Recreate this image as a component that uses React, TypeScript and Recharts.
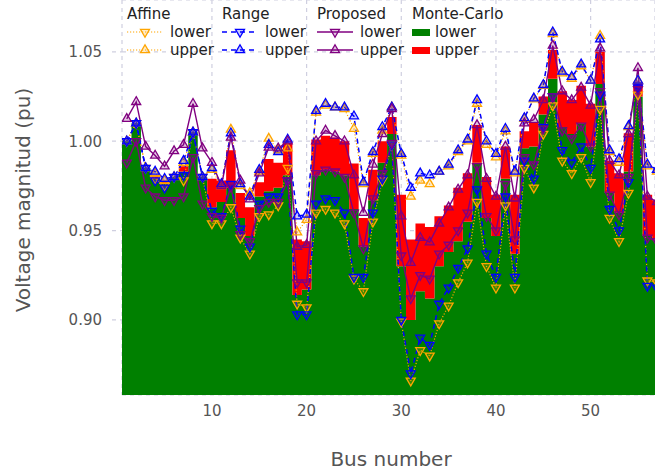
import React from "react";
import { ComposedChart, Area, Line, XAxis, YAxis, CartesianGrid } from "recharts";

// bus voltage bounds per bus (pu)
const buses = [
  1, 2, 3, 4, 5, 6, 7, 8, 9, 10, 11, 12, 13, 14, 15, 16, 17, 18, 19, 20,
  21, 22, 23, 24, 25, 26, 27, 28, 29, 30, 31, 32, 33, 34, 35, 36, 37, 38, 39, 40,
  41, 42, 43, 44, 45, 46, 47, 48, 49, 50, 51, 52, 53, 54, 55, 56, 57,
];

const affineLower = [
  1.0, 1.01, 0.985, 0.979, 0.975, 0.98, 0.978, 1.005, 0.98, 0.954,
  0.954, 0.963, 0.946, 0.937, 0.958, 0.959, 0.964, 0.985, 0.909, 0.907,
  0.96, 0.962, 0.96, 0.954, 0.923, 0.916, 0.955, 0.978, 0.998, 0.899,
  0.866, 0.883, 0.88, 0.898, 0.908, 0.921, 0.932, 0.966, 0.93, 0.918,
  0.964, 0.918, 0.985, 0.974, 1.004, 1.02, 0.989, 0.982, 0.991, 0.977,
  1.018, 0.957, 0.944, 0.971, 1.026, 0.922, 0.921,
];
const affineUpper = [
  1.0, 1.01, 0.985, 0.982, 0.978, 0.98, 0.988, 1.005, 0.98, 0.984,
  0.975, 1.0065, 0.975, 0.971, 0.983, 1.0015, 0.995, 0.996, 0.949, 0.956,
  1.016, 1.02, 1.019, 1.018, 1.007, 0.976, 0.993, 1.006, 1.019, 0.992,
  0.969, 0.978, 0.976, 0.983, 0.986, 0.994, 1.0, 1.021, 0.998, 0.991,
  1.0055, 0.982, 1.0125, 1.0235, 1.031, 1.06, 1.038, 1.035, 1.042, 1.034,
  1.059, 0.994, 0.988, 1.008, 1.034, 0.986, 0.983,
];
const rangeLower = [
  1.0, 1.01, 0.985, 0.978, 0.974, 0.98, 0.981, 1.005, 0.98, 0.961,
  0.958, 0.976, 0.951, 0.941, 0.965, 0.969, 0.969, 0.978, 0.903, 0.903,
  0.965, 0.968, 0.967, 0.96, 0.924, 0.924, 0.96, 0.979, 0.998, 0.9,
  0.87, 0.89, 0.886, 0.909, 0.918, 0.929, 0.94, 0.973, 0.937, 0.924,
  0.969, 0.924, 0.989, 0.979, 1.008, 1.025, 0.995, 0.988, 0.997, 0.985,
  1.026, 0.962, 0.95, 0.977, 1.03, 0.919, 0.918,
];
const rangeUpper = [
  1.0, 1.01, 0.985, 0.983, 0.979, 0.98, 0.989, 1.005, 0.98, 0.985,
  0.976, 1.0045, 0.976, 0.969, 0.984, 0.998, 0.994, 1.001, 0.958, 0.959,
  1.017, 1.021, 1.019, 1.019, 1.014, 0.977, 0.994, 1.008, 1.019, 0.993,
  0.974, 0.982, 0.981, 0.983, 0.987, 0.995, 1.001, 1.023, 1.0, 0.993,
  1.007, 0.983, 1.013, 1.024, 1.0315, 1.061, 1.039, 1.036, 1.043, 1.034,
  1.057, 0.995, 0.99, 1.0085, 1.034, 0.987, 0.984,
];
const proposedLower = [
  0.988, 1.0, 0.974, 0.969, 0.967, 0.967, 0.969, 0.991, 0.965, 0.958,
  0.957, 0.9745, 0.948, 0.944, 0.9625, 0.966, 0.966, 0.978, 0.921, 0.921,
  0.982, 0.984, 0.983, 0.98, 0.96, 0.94, 0.968, 0.982, 0.999, 0.936,
  0.912, 0.925, 0.923, 0.937, 0.942, 0.95, 0.96, 0.986, 0.958, 0.95,
  0.976, 0.945, 0.991, 0.987, 1.007, 1.025, 1.006, 1.0015, 1.0087, 0.997,
  1.028, 0.97, 0.959, 0.98, 1.029, 0.946, 0.944,
];
const proposedUpper = [
  1.0125, 1.022, 0.997, 0.992, 0.986, 0.9945, 0.998, 1.021, 0.996, 0.988,
  0.975, 1.002, 0.978, 0.9675, 0.982, 0.9965, 0.996, 1.0, 0.941, 0.942,
  1.0, 1.006, 1.003, 1.0, 0.981, 0.96, 0.987, 1.004, 1.018, 0.958,
  0.932, 0.946, 0.9435, 0.954, 0.963, 0.973, 0.981, 1.009, 0.979, 0.969,
  0.997, 0.968, 1.01, 1.012, 1.023, 1.0535, 1.028, 1.023, 1.03, 1.02,
  1.052, 0.989, 0.981, 1.004, 1.041, 0.969, 0.966,
];
const mcLower = [
  1.0, 1.01, 0.985, 0.979, 0.976, 0.98, 0.983, 1.005, 0.98, 0.963,
  0.966, 0.974, 0.957, 0.947, 0.969, 0.972, 0.974, 0.981, 0.914, 0.917,
  0.981, 0.984, 0.983, 0.981, 0.962, 0.941, 0.967, 0.988, 1.004, 0.93,
  0.9, 0.916, 0.912, 0.93, 0.938, 0.944, 0.955, 0.988, 0.957, 0.947,
  0.979, 0.937, 0.996, 0.997, 1.015, 1.035, 1.008, 1.004, 1.01, 0.997,
  1.032, 0.971, 0.96, 0.983, 1.025, 0.947, 0.945,
];
const mcUpper = [
  1.0, 1.01, 0.985, 0.981, 0.978, 0.98, 0.986, 1.005, 0.98, 0.979,
  0.978, 0.995, 0.971, 0.963, 0.977, 0.99, 0.988, 0.999, 0.945, 0.944,
  1.001, 1.003, 1.002, 1.0, 0.9875, 0.957, 0.984, 1.0, 1.0136, 0.97,
  0.945, 0.954, 0.952, 0.958, 0.964, 0.974, 0.982, 1.009, 0.98, 0.97,
  0.997, 0.97, 1.0055, 1.0105, 1.025, 1.051, 1.028, 1.023, 1.031, 1.021,
  1.05, 0.989, 0.982, 1.0045, 1.033, 0.97, 0.967,
];

const xTicks = [10, 20, 30, 40, 50];
const yTicks = [0.9, 0.95, 1.0, 1.05];

const Y_MIN = 0.858;
const Y_MAX = 1.079;
const X_MIN = 0.5;
const X_MAX = 56.8;

const ORANGE = "#FFA500";
const BLUE = "#0000FF";
const PURPLE = "#800080";
const GREEN = "#008000";
const RED = "#FF0000";
const GRID = "#cfcfe0";
const FONT = "'DejaVu Sans', sans-serif";

// one table: monte-carlo rows sit on the half-bus edges (drawn as stepAfter),
// the bound lines sit on the integer bus numbers
type Row = {
  x: number;
  ml?: number;
  mu?: number;
  al?: number;
  au?: number;
  rl?: number;
  ru?: number;
  pl?: number;
  pu?: number;
};

const rows: Row[] = [];
buses.forEach((b, i) => {
  rows.push({ x: b - 0.5, ml: mcLower[i], mu: mcUpper[i] });
  rows.push({
    x: b,
    al: affineLower[i],
    au: affineUpper[i],
    rl: rangeLower[i],
    ru: rangeUpper[i],
    pl: proposedLower[i],
    pu: proposedUpper[i],
  });
});
const last = buses.length - 1;
rows.push({ x: buses[last] + 0.5, ml: mcLower[last], mu: mcUpper[last] });

function trianglePath(cx: number, cy: number, up: boolean) {
  const w = 4.5;
  const a = 5.2;
  const b = 2.6;
  return up
    ? `M${cx},${cy - a}L${cx + w},${cy + b}L${cx - w},${cy + b}Z`
    : `M${cx},${cy + a}L${cx + w},${cy - b}L${cx - w},${cy - b}Z`;
}

const triangle = (color: string, up: boolean) => (props: any) => {
  const { cx, cy, index } = props;
  if (cx == null || cy == null || Number.isNaN(cy)) return <g key={`e-${index}`} />;
  return (
    <path
      key={`t-${index}`}
      d={trianglePath(cx, cy, up)}
      stroke={color}
      strokeWidth={1.3}
      fill={color}
      fillOpacity={0.22}
    />
  );
};

const legendGroups = [
  { title: "Affine", left: 127, color: ORANGE, dash: "1.2 1.8", width: 1.2 },
  { title: "Range", left: 222, color: BLUE, dash: "5 4", width: 1.5 },
  { title: "Proposed", left: 317, color: PURPLE, dash: undefined, width: 1.4 },
];

function LegendSample({ color, dash, width, up }: { color: string; dash?: string; width: number; up: boolean }) {
  return (
    <svg width={36} height={14} style={{ display: "block" }}>
      <line x1={0} y1={7} x2={36} y2={7} stroke={color} strokeWidth={width} strokeDasharray={dash} />
      <path d={trianglePath(18, 7, up)} stroke={color} strokeWidth={1.3} fill={color} fillOpacity={0.22} />
    </svg>
  );
}

function Legend() {
  const text: React.CSSProperties = { position: "absolute", fontSize: 15, color: "#222", whiteSpace: "nowrap", lineHeight: "18px" };
  return (
    <>
      {legendGroups.map((g) => (
        <React.Fragment key={g.title}>
          <div style={{ ...text, left: g.left, top: 5 }}>{g.title}</div>
          <div style={{ position: "absolute", left: g.left, top: 25 }}>
            <LegendSample color={g.color} dash={g.dash} width={g.width} up={false} />
          </div>
          <div style={{ ...text, left: g.left + 43, top: 23 }}>lower</div>
          <div style={{ position: "absolute", left: g.left, top: 43 }}>
            <LegendSample color={g.color} dash={g.dash} width={g.width} up={true} />
          </div>
          <div style={{ ...text, left: g.left + 43, top: 41 }}>upper</div>
        </React.Fragment>
      ))}
      <div style={{ ...text, left: 412, top: 5 }}>Monte-Carlo</div>
      <div style={{ position: "absolute", left: 412, top: 29, width: 18, height: 7, background: GREEN }} />
      <div style={{ ...text, left: 435, top: 23 }}>lower</div>
      <div style={{ position: "absolute", left: 412, top: 47, width: 18, height: 7, background: RED }} />
      <div style={{ ...text, left: 435, top: 41 }}>upper</div>
    </>
  );
}

export default function App() {
  return (
    <div
      style={{
        position: "fixed",
        left: 0,
        top: 0,
        width: 655,
        height: 476,
        background: "#fff",
        fontFamily: FONT,
        overflow: "hidden",
      }}
    >
      <ComposedChart width={655} height={476} data={rows} margin={{ top: 0, right: 0, bottom: 0, left: 0 }}>
        <CartesianGrid stroke={GRID} strokeDasharray="4 4" strokeWidth={1.2} />
        <XAxis
          dataKey="x"
          type="number"
          domain={[X_MIN, X_MAX]}
          allowDataOverflow
          ticks={xTicks}
          height={81}
          axisLine={false}
          tickLine={false}
          tickSize={10}
          tickMargin={0}
          tick={{ fill: "#555", fontSize: 15, fontFamily: FONT }}
        />
        <YAxis
          type="number"
          domain={[Y_MIN, Y_MAX]}
          allowDataOverflow
          ticks={yTicks}
          tickFormatter={(v: number) => v.toFixed(2)}
          width={122}
          axisLine={false}
          tickSize={10}
          tickMargin={10}
          tickLine={{ stroke: GRID, strokeDasharray: "4 4", strokeWidth: 1.2 }}
          tick={{ fill: "#555", fontSize: 15, fontFamily: FONT }}
        />
        <Area
          dataKey="ml"
          type="stepAfter"
          baseValue={Y_MIN}
          connectNulls
          stroke="none"
          fill={GREEN}
          fillOpacity={1}
          isAnimationActive={false}
          activeDot={false}
        />
        <Area
          dataKey={(r: Row) => (r.mu == null ? null : [r.ml, r.mu])}
          type="stepAfter"
          connectNulls
          stroke="none"
          fill={RED}
          fillOpacity={1}
          isAnimationActive={false}
          activeDot={false}
        />
        <Line dataKey="al" stroke={ORANGE} strokeWidth={1.2} strokeDasharray="1.2 1.8" connectNulls dot={triangle(ORANGE, false)} activeDot={false} isAnimationActive={false} />
        <Line dataKey="au" stroke={ORANGE} strokeWidth={1.2} strokeDasharray="1.2 1.8" connectNulls dot={triangle(ORANGE, true)} activeDot={false} isAnimationActive={false} />
        <Line dataKey="rl" stroke={BLUE} strokeWidth={1.5} strokeDasharray="5 4" connectNulls dot={triangle(BLUE, false)} activeDot={false} isAnimationActive={false} />
        <Line dataKey="ru" stroke={BLUE} strokeWidth={1.5} strokeDasharray="5 4" connectNulls dot={triangle(BLUE, true)} activeDot={false} isAnimationActive={false} />
        <Line dataKey="pl" stroke={PURPLE} strokeWidth={1.4} connectNulls dot={triangle(PURPLE, false)} activeDot={false} isAnimationActive={false} />
        <Line dataKey="pu" stroke={PURPLE} strokeWidth={1.4} connectNulls dot={triangle(PURPLE, true)} activeDot={false} isAnimationActive={false} />
      </ComposedChart>
      <Legend />
      <div
        style={{
          position: "absolute",
          left: 391,
          top: 459,
          transform: "translate(-50%, -50%)",
          fontSize: 20,
          color: "#555",
          whiteSpace: "nowrap",
        }}
      >
        Bus number
      </div>
      <div
        style={{
          position: "absolute",
          left: 23,
          top: 200,
          transform: "translate(-50%, -50%) rotate(-90deg)",
          fontSize: 20,
          color: "#555",
          whiteSpace: "nowrap",
        }}
      >
        Voltage magnitud (pu)
      </div>
    </div>
  );
}
